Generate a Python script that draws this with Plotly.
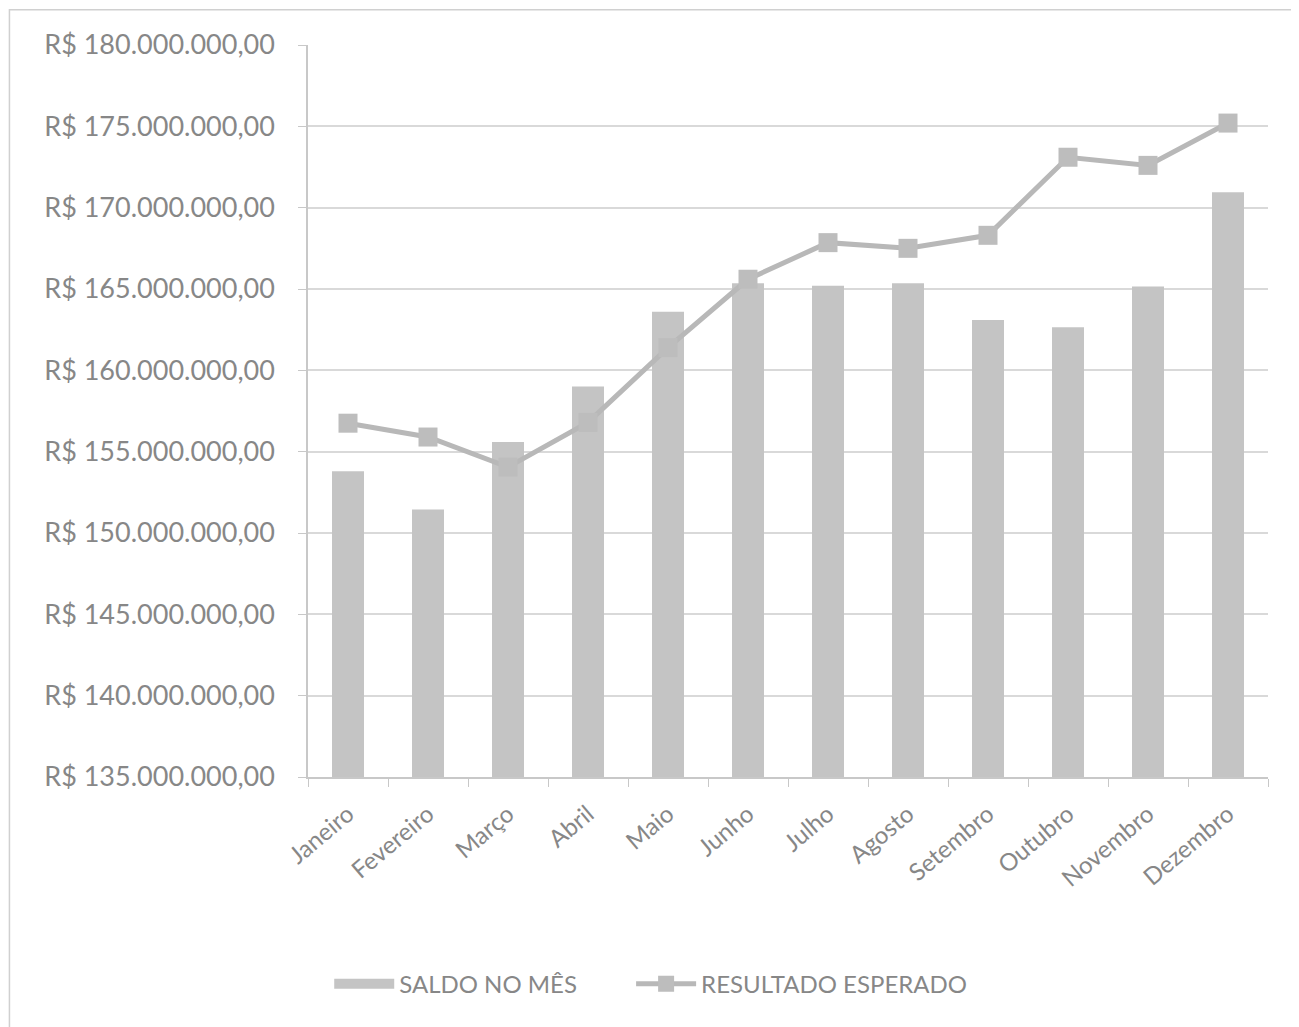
import plotly.graph_objects as go

meses = ["Janeiro", "Fevereiro", "Março", "Abril", "Maio", "Junho", "Julho",
         "Agosto", "Setembro", "Outubro", "Novembro", "Dezembro"]
saldo_no_mes = [153.8e6, 151.45e6, 155.6e6, 159.0e6, 163.6e6, 165.35e6, 165.2e6,
                165.35e6, 163.1e6, 162.65e6, 165.15e6, 170.95e6]
resultado_esperado = [156.75e6, 155.9e6, 154.05e6, 156.8e6, 161.4e6, 165.6e6, 167.85e6,
                      167.5e6, 168.3e6, 173.1e6, 172.6e6, 175.2e6]
y_ticks = [135e6 + 5e6 * i for i in range(10)]


def brl(v):
    s = f"{v:,.2f}".replace(",", "X").replace(".", ",").replace("X", ".")
    return "R$ " + s


y_ticktext = [brl(v) for v in y_ticks]

font_family = "Lato, 'Open Sans', sans-serif"
text_color = "#878787"
bar_color = "#c4c4c4"
line_color = "#b8b8b8"

fig = go.Figure()
fig.add_trace(go.Bar(
    x=meses, y=saldo_no_mes, name="SALDO NO MÊS", showlegend=False,
    marker=dict(color=bar_color, line=dict(width=0)),
))
# legend entry drawn as a wide swatch like the original
fig.add_trace(go.Scatter(
    x=[None], y=[None], name="SALDO NO MÊS" + "\u00a0" * 8, mode="lines",
    line=dict(color=bar_color, width=16),
))
fig.add_trace(go.Scatter(
    x=meses, y=resultado_esperado, name="RESULTADO ESPERADO",
    mode="lines+markers",
    line=dict(color=line_color, width=5),
    marker=dict(symbol="square", size=19, color="#bdbdbd"),
))

fig.update_layout(
    width=1291, height=1019,
    margin=dict(l=300, r=31, t=37, b=250),
    paper_bgcolor="white", plot_bgcolor="white",
    bargap=0.6,
    font=dict(family=font_family, color=text_color, size=19),
    showlegend=True,
    legend=dict(orientation="h", x=0.357, y=-0.283, xanchor="center", yanchor="middle",
                font=dict(size=24, color=text_color), itemwidth=60,
                traceorder="normal"),
    shapes=[dict(type="rect", xref="paper", yref="paper",
                 x0=-0.311, x1=1.025, y0=-0.345, y1=1.048,
                 line=dict(color="#d0d0d0", width=1.5), layer="below")],
)
fig.update_yaxes(
    range=[135e6, 180e6], tickvals=y_ticks, ticktext=y_ticktext,
    showgrid=True, gridcolor="#d9d9d9", gridwidth=1.5,
    showline=True, linecolor="#c8c8c8", linewidth=1.5,
    ticks="outside", ticklen=8, tickcolor="#c8c8c8", ticklabelstandoff=18,
    tickfont=dict(size=27, color=text_color), zeroline=False,
)
fig.update_xaxes(
    range=[-0.5, 11.5],
    tickangle=-40, showline=True, linecolor="#c8c8c8", linewidth=1.5,
    ticks="outside", ticklen=8, tickcolor="#c8c8c8", tickson="boundaries",
    ticklabelstandoff=12,
    tickfont=dict(size=24, color=text_color), showgrid=False,
)

fig.write_html("out.html")
